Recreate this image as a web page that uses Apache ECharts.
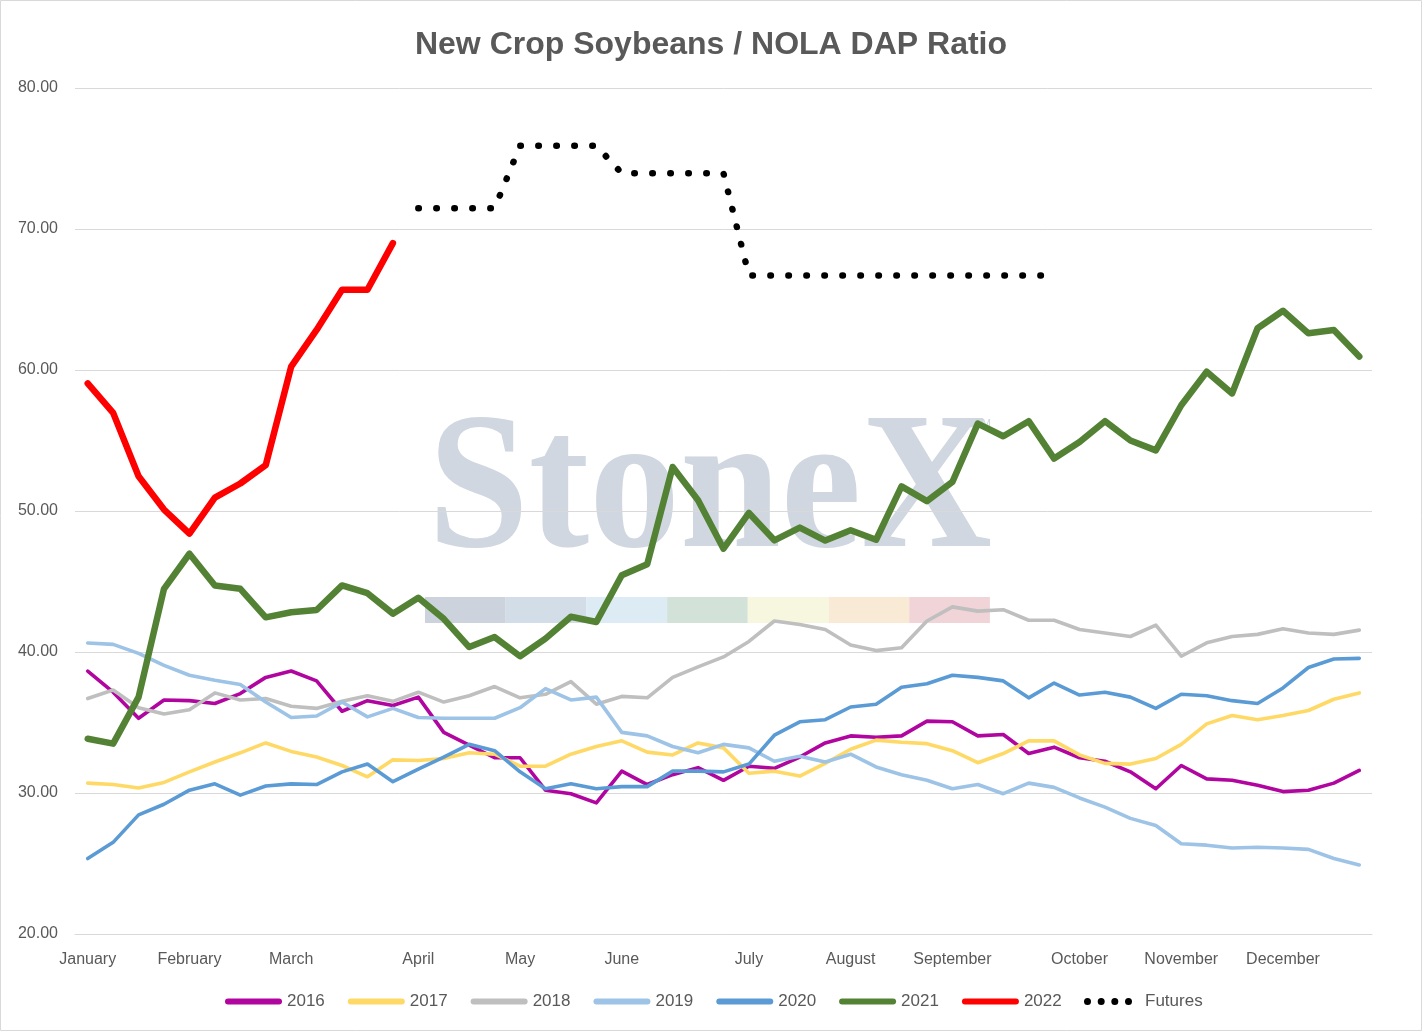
<!DOCTYPE html>
<html>
<head>
<meta charset="utf-8">
<title>New Crop Soybeans / NOLA DAP Ratio</title>
<script src="https://cdn.jsdelivr.net/npm/echarts@6.0.0/dist/echarts.min.js"></script>
<style>
  html, body { margin: 0; padding: 0; background: #fff; }
  #chart { width: 1422px; height: 1031px; }
</style>
</head>
<body>
<div id="chart"></div>
<script>
// week axis: 51 weekly points, month names shown on the first week of each month
var months = ['January', 'February', 'March', 'April', 'May', 'June', 'July',
	'August', 'September', 'October', 'November', 'December'];
var monthStart = [0, 4, 8, 13, 17, 21, 26, 30, 34, 39, 43, 47];
var weekCount = 51;

var y2016 = [38.65, 37.15, 35.3, 36.6, 36.55, 36.35, 37.05, 38.2, 38.65, 37.95, 35.8, 36.55, 36.2,
	36.8, 34.3, 33.4, 32.5, 32.5, 30.2, 29.95, 29.3, 31.55, 30.6, 31.3, 31.8, 30.9, 31.9,
	31.75, 32.55, 33.55, 34.05, 33.95, 34.05, 35.1, 35.05, 34.05, 34.15, 32.8, 33.25, 32.5,
	32.25, 31.5, 30.3, 31.95, 31.0, 30.9, 30.55, 30.1, 30.2, 30.7, 31.6];
var y2017 = [30.7, 30.6, 30.35, 30.75, 31.5, 32.2, 32.85, 33.55, 32.95, 32.55, 31.95, 31.15, 32.35,
	32.3, 32.45, 32.85, 32.75, 31.9, 31.9, 32.75, 33.3, 33.7, 32.9, 32.7, 33.55, 33.2, 31.4,
	31.55, 31.2, 32.1, 33.1, 33.75, 33.6, 33.5, 33.0, 32.15, 32.8, 33.7, 33.7, 32.7,
	32.1, 32.05, 32.45, 33.45, 34.9, 35.5, 35.2, 35.5, 35.85, 36.65, 37.1];
var y2018 = [36.7, 37.3, 36.05, 35.6, 35.9, 37.1, 36.6, 36.7, 36.15, 36.0, 36.5, 36.9, 36.5,
	37.15, 36.45, 36.9, 37.55, 36.75, 37.0, 37.9, 36.3, 36.85, 36.75, 38.2, 38.95, 39.65, 40.75,
	42.2, 41.95, 41.6, 40.5, 40.1, 40.3, 42.2, 43.2, 42.9, 43.0, 42.25, 42.25, 41.6,
	41.35, 41.1, 41.9, 39.7, 40.65, 41.1, 41.25, 41.65, 41.35, 41.25, 41.55];
var y2019 = [40.64, 40.54, 39.9, 39.05, 38.35, 38.0, 37.7, 36.45, 35.35, 35.46, 36.45, 35.4, 36.0,
	35.35, 35.3, 35.3, 35.3, 36.05, 37.4, 36.6, 36.8, 34.3, 34.05, 33.3, 32.85, 33.45, 33.2,
	32.25, 32.6, 32.2, 32.75, 31.85, 31.3, 30.9, 30.3, 30.6, 29.95, 30.7, 30.4, 29.65,
	29.0, 28.2, 27.7, 26.4, 26.3, 26.1, 26.15, 26.1, 26.0, 25.35, 24.9];
var y2020 = [25.35, 26.5, 28.45, 29.2, 30.2, 30.65, 29.85, 30.5, 30.65, 30.6, 31.5, 32.05, 30.8,
	31.7, 32.55, 33.45, 33.0, 31.5, 30.3, 30.65, 30.3, 30.45, 30.45, 31.55, 31.55, 31.5, 32.05,
	34.1, 35.05, 35.2, 36.1, 36.3, 37.5, 37.75, 38.35, 38.2, 37.95, 36.75, 37.8, 36.95,
	37.15, 36.8, 36.0, 37.0, 36.9, 36.55, 36.35, 37.45, 38.9, 39.5, 39.55];
var y2021 = [33.85, 33.5, 36.8, 44.48, 46.97, 44.72, 44.48, 42.46, 42.82, 42.98, 44.72, 44.17, 42.72,
	43.85, 42.35, 40.35, 41.06, 39.7, 40.95, 42.5, 42.13, 45.44, 46.22, 53.12, 50.76, 47.33, 49.86,
	47.92, 48.82, 47.9, 48.63, 47.96, 51.75, 50.7, 52.06, 56.2, 55.3, 56.37, 53.72, 54.9,
	56.37, 55.0, 54.3, 57.5, 59.88, 58.34, 62.96, 64.2, 62.6, 62.84, 60.95];
var y2022 = [59.05, 56.96, 52.46, 50.1, 48.4, 50.95, 51.95, 53.25, 60.24, 62.84, 65.69, 65.69, 69.0];
var futures = [null, null, null, null, null, null, null, null, null, null, null, null, null,
	71.47, 71.47, 71.47, 71.47, 75.9, 75.9, 75.9, 75.9, 73.95, 73.95, 73.95, 73.95, 73.95,
	66.7, 66.7, 66.7, 66.7, 66.7, 66.7, 66.7, 66.7, 66.7, 66.7, 66.7, 66.7, 66.7];

var yearNames = ['2016', '2017', '2018', '2019', '2020', '2021', '2022'];
var yearData = [y2016, y2017, y2018, y2019, y2020, y2021, y2022];
var yearColors = ['#b1059f', '#ffd966', '#bfbfbf', '#9dc3e6', '#5b9bd5', '#548235', '#ff0000'];
var yearWidths = [3.6, 3.6, 3.6, 3.6, 3.6, 6.5, 6.5];

var weeks = [];
for(var i = 0; i < weekCount; i++) {
	weeks.push('W' + (i + 1));
}

var textColor = '#595959',
	baseFont = '"Liberation Sans", Arial, sans-serif';

var series = yearNames.map(function(name, k) {
	return {
		name: name,
		type: 'line',
		data: yearData[k],
		symbol: 'none',
		itemStyle: { color: yearColors[k] },
		lineStyle: { color: yearColors[k], width: yearWidths[k], cap: 'round', join: 'round' },
		emphasis: { disabled: true }
	};
});
series.push({
	name: 'Futures',
	type: 'line',
	data: futures,
	symbol: 'none',
	itemStyle: { color: '#000' },
	lineStyle: { color: '#000', width: 6.5, type: [0.5, 17.5], cap: 'round' },
	emphasis: { disabled: true }
});

// watermark: StoneX text and colour strip
var stripColors = ['#ccd3dc', '#d3dde8', '#ddebf5', '#d2e2d8', '#f7f7e0', '#f9ead6', '#f1d4d7'];
var graphics = [{
	type: 'rect', silent: true, z: -100,
	shape: { x: 0.5, y: 0.5, width: 1421, height: 1030 },
	style: { fill: null, stroke: '#d9d9d9', lineWidth: 1 }
}, {
	type: 'text', silent: true, z: -100,
	x: 428, y: 398, scaleX: 0.93,
	style: {
		text: 'StoneX', fill: '#d0d7e0',
		font: 'bold 195px "Liberation Serif", serif',
		verticalAlign: 'top'
	}
}, {
	type: 'text', silent: true, z: -100,
	x: 975, y: 418,
	style: { text: 'TM', fill: '#cdd5de', font: '11px "Liberation Sans", sans-serif' }
}];
stripColors.forEach(function(c, i) {
	graphics.push({
		type: 'rect', silent: true, z: -100,
		shape: { x: 425 + i * 80.7, y: 597, width: 80.7, height: 26 },
		style: { fill: c }
	});
});

var pill = 'path://M3,0H54A3,3,0,0,1,54,6H3A3,3,0,0,1,3,0Z';
var dots = 'path://M0,3.5a3.5,3.5 0 1,0 7,0a3.5,3.5 0 1,0 -7,0Z' +
	'M13.7,3.5a3.5,3.5 0 1,0 7,0a3.5,3.5 0 1,0 -7,0Z' +
	'M27.3,3.5a3.5,3.5 0 1,0 7,0a3.5,3.5 0 1,0 -7,0Z' +
	'M41,3.5a3.5,3.5 0 1,0 7,0a3.5,3.5 0 1,0 -7,0Z';

var chart = echarts.init(document.getElementById('chart'));
chart.setOption({
	backgroundColor: '#fff',
	animation: false,
	title: {
		text: 'New Crop Soybeans / NOLA DAP Ratio',
		left: 'center',
		top: 24,
		textStyle: { color: textColor, fontSize: 32, fontWeight: 'bold', fontFamily: baseFont }
	},
	graphic: graphics,
	legend: [{
		data: yearNames.map(function(n, k) {
			return { name: n, itemStyle: { color: yearColors[k] } };
		}),
		left: 225,
		top: 993,
		padding: 0,
		icon: pill,
		itemWidth: 57,
		itemHeight: 6,
		itemGap: 23,
		textStyle: { color: textColor, fontSize: 17, fontFamily: baseFont, width: 38 }
	}, {
		data: [{ name: 'Futures', icon: dots, itemStyle: { color: '#000' } }],
		left: 1084,
		top: 993,
		padding: 0,
		itemWidth: 48,
		itemHeight: 7,
		textStyle: { color: textColor, fontSize: 17, fontFamily: baseFont, padding: [0, 0, 0, 8] }
	}],
	grid: { left: 75, right: 50, top: 88, bottom: 97 },
	xAxis: {
		type: 'category',
		data: weeks,
		boundaryGap: true,
		axisLine: { lineStyle: { color: '#d9d9d9' } },
		axisTick: { show: false },
		axisLabel: {
			interval: function(idx) { return monthStart.indexOf(idx) >= 0; },
			formatter: function(v, idx) { return months[monthStart.indexOf(idx)]; },
			color: textColor,
			fontSize: 16,
			fontFamily: baseFont,
			margin: 18
		}
	},
	yAxis: {
		type: 'value',
		min: 20,
		max: 80,
		interval: 10,
		axisLine: { show: false },
		axisTick: { show: false },
		splitLine: { lineStyle: { color: '#d9d9d9', width: 1 } },
		axisLabel: {
			formatter: function(v) { return v.toFixed(2); },
			color: textColor,
			fontSize: 16,
			fontFamily: baseFont,
			margin: 17
		}
	},
	series: series
});
</script>
</body>
</html>
